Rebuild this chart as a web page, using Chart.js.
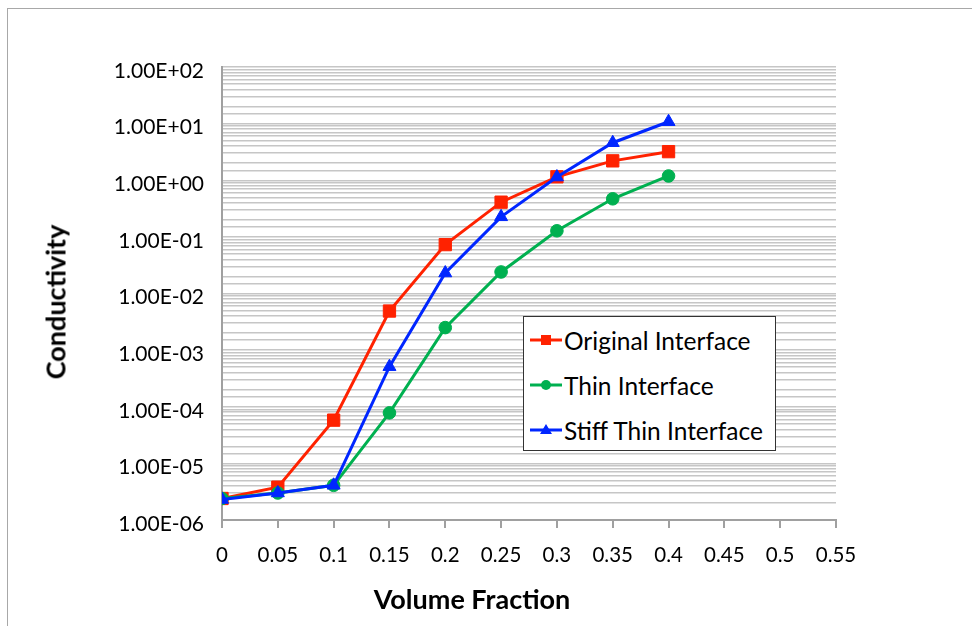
<!DOCTYPE html>
<html>
<head>
<meta charset="utf-8">
<script src="https://cdn.jsdelivr.net/npm/chart.js@4/dist/chart.umd.min.js"></script>
<style>
  html, body { margin:0; padding:0; background:#fff; }
  #wrap { position:relative; width:972px; height:626px; overflow:hidden; }
  #frame { position:absolute; left:7px; top:8px; width:1100px; height:800px; border:1.5px solid #a8a8a8; box-sizing:border-box; }
  canvas { position:absolute; left:0; top:0; }
  .title { position:absolute; font-family:Lato, sans-serif; font-weight:bold; font-size:27px; color:#000; white-space:nowrap; }
  #xtitle { left:472px; top:598px; transform:translate(-50%,-50%); }
  #ytitle { left:55px; top:302px; transform:translate(-50%,-50%) rotate(-90deg); }
  #legend { position:absolute; left:523px; top:316px; width:253px; height:135px; border:1.5px solid #333; box-sizing:border-box; background:#fff; font-family:Lato, sans-serif; font-size:24.5px; color:#000; }
  .item { position:absolute; left:6px; height:30px; display:flex; align-items:center; white-space:nowrap; }
  .item svg { margin-right:2px; }
</style>
</head>
<body>
<div id="wrap">
  <div id="frame"></div>
  <canvas id="c" width="972" height="626"></canvas>
  <div id="ytitle" class="title">Conductivity</div>
  <div id="xtitle" class="title">Volume Fraction</div>
  <div id="legend"></div>
</div>
<script>
// ---- data ----
const xValues = [0, 0.05, 0.1, 0.15, 0.2, 0.25, 0.3, 0.35, 0.4];
const seriesNames = ['Original Interface', 'Thin Interface', 'Stiff Thin Interface'];
const originalInterface = [2.4e-6, 3.8e-6, 5.8e-5, 4.9e-3, 0.073, 0.41, 1.15, 2.2, 3.2];
const thinInterface = [2.4e-6, 3.0e-6, 4.1e-6, 7.8e-5, 2.5e-3, 0.024, 0.128, 0.47, 1.19];
const stiffThinInterface = [2.3e-6, 3.0e-6, 4.1e-6, 5.1e-4, 0.023, 0.226, 1.14, 4.6, 10.8];
const xTickLabels = ['0', '0.05', '0.1', '0.15', '0.2', '0.25', '0.3', '0.35', '0.4', '0.45', '0.5', '0.55'];
const yTickLabels = ['1.00E-06', '1.00E-05', '1.00E-04', '1.00E-03', '1.00E-02', '1.00E-01', '1.00E+00', '1.00E+01', '1.00E+02'];

const colors = ['#ff2200', '#00b050', '#0026ff'];
const styles = ['rect', 'circle', 'triangle'];
const radii = [8.7, 6.3, 7.5];
const seriesData = [originalInterface, thinInterface, stiffThinInterface];

const datasets = seriesData.map((vals, i) => ({
  label: seriesNames[i],
  data: xValues.map((x, j) => ({ x: x, y: vals[j] })),
  borderColor: colors[i],
  backgroundColor: colors[i],
  borderWidth: 3,
  pointStyle: styles[i],
  pointRadius: radii[i],
  pointHoverRadius: radii[i],
  pointBorderWidth: 1,
  tension: 0,
  order: 3 - i
}));

new Chart(document.getElementById('c'), {
  type: 'line',
  data: { datasets },
  options: {
    responsive: false,
    animation: false,
    layout: { padding: { left: 0, top: 67, right: 136, bottom: 0 } },
    plugins: { legend: { display: false }, tooltip: { enabled: false } },
    scales: {
      x: {
        type: 'linear',
        min: 0, max: 0.55,
        afterFit: s => { s.height = 106; },
        afterBuildTicks: s => { s.ticks = xTickLabels.map((t, i) => ({ value: i * 0.05 })); },
        ticks: {
          autoSkip: false,
          padding: 15,
          font: { family: 'Lato', size: 20.5 },
          color: '#000',
          callback: (v, i) => xTickLabels[i]
        },
        grid: { display: true, drawOnChartArea: false, drawTicks: true, tickLength: 8, color: '#a0a0a0', lineWidth: 2 },
        border: { color: '#a0a0a0', width: 2 }
      },
      y: {
        type: 'logarithmic',
        min: 1e-6, max: 100,
        afterFit: s => { s.width = 222; },
        ticks: {
          autoSkip: false,
          padding: 18,
          labelOffset: 4,
          font: { family: 'Lato', size: 21 },
          color: '#000',
          callback: v => {
            const e = Math.log10(v);
            const r = Math.round(e);
            if (Math.abs(e - r) < 1e-6) return yTickLabels[r + 6];
            return '';
          }
        },
        grid: { color: '#c6c6c6', lineWidth: 1.5, drawTicks: false },
        border: { color: '#a0a0a0', width: 2 }
      }
    }
  }
});

// ---- HTML legend built from series ----
const legend = document.getElementById('legend');
const itemTops = [8, 53, 98];
seriesNames.forEach((name, i) => {
  const d = document.createElement('div');
  d.className = 'item';
  d.style.top = itemTops[i] + 'px';
  let marker = '';
  if (styles[i] === 'rect') marker = `<rect x="11" y="6" width="10" height="10" fill="${colors[i]}"/>`;
  else if (styles[i] === 'circle') marker = `<circle cx="16" cy="11" r="5" fill="${colors[i]}"/>`;
  else marker = `<polygon points="16,5 22,15 10,15" fill="${colors[i]}"/>`;
  d.innerHTML = `<svg width="32" height="22"><line x1="0" y1="11" x2="32" y2="11" stroke="${colors[i]}" stroke-width="3"/>${marker}</svg><span>${name}</span>`;
  legend.appendChild(d);
});
</script>
</body>
</html>
